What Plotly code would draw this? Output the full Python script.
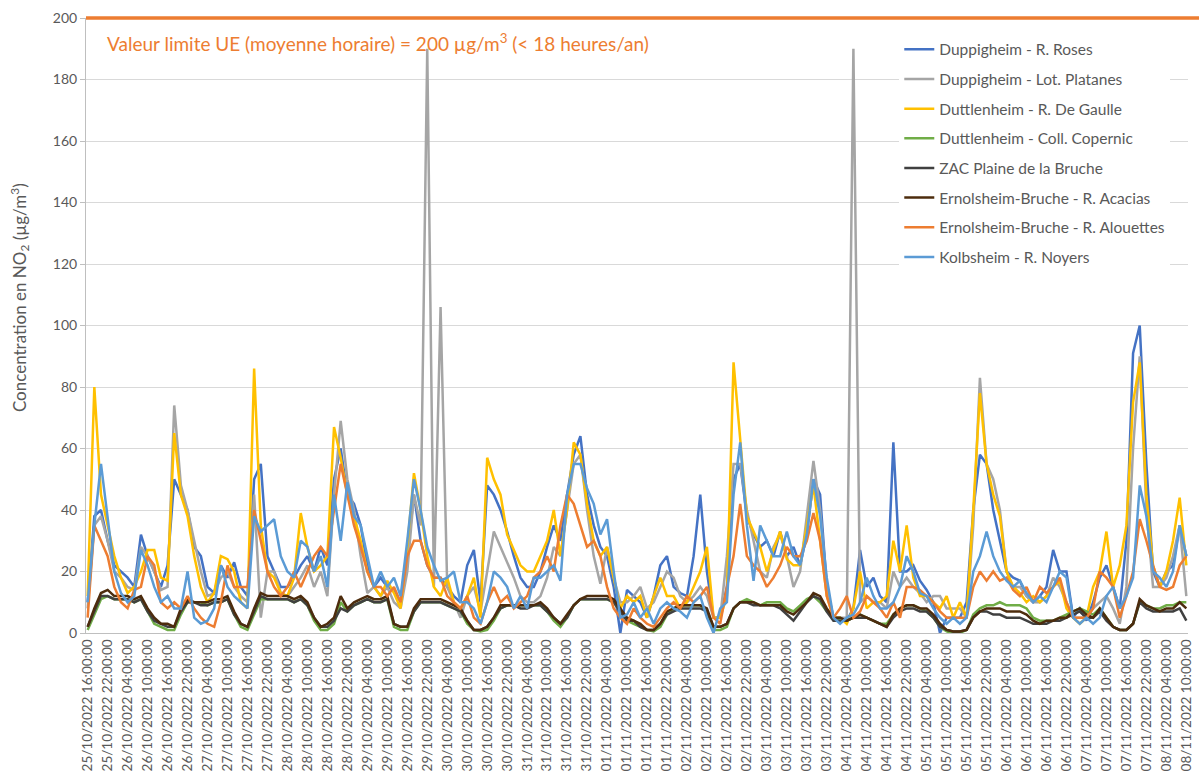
import pandas as pd
import plotly.graph_objects as go

# Hourly NO2 readings, sampled every 2 hours from 25/10/2022 16:00
START = "2022-10-25 16:00"
STEP = "2h"
LIMIT = 200  # EU hourly limit value

roses = [
    10, 38, 40, 30, 22, 20, 18, 15, 32, 25, 20, 15, 22, 50, 45, 40, 28, 25, 15, 13, 22, 18, 23, 15, 12,
    50, 55, 25, 20, 15, 15, 18, 22, 25, 20, 28, 22, 50, 60, 45, 42, 35, 22, 15, 18, 15, 14, 10, 25, 45, 30, 22, 18,
    18, 15, 12, 10, 22, 27, 10, 48, 45, 40, 33, 25, 18, 15, 15, 20, 28, 35, 30, 45, 58, 64, 45, 35, 28, 25, 15, 0, 14,
    12, 10, 5, 12, 22, 25, 15, 13, 12, 25, 45, 20, 5, 5, 15, 50, 55, 38, 32, 28, 30, 25, 33, 25, 28, 22, 32, 50,
    45, 15, 5, 5, 4, 8, 27, 15, 18, 12, 10, 62, 20, 20, 22, 17, 14, 10, 0, 5, 5, 5, 10, 40, 58, 55, 40, 30, 20,
    18, 17, 12, 10, 12, 15, 27, 20, 20, 5, 8, 4, 10, 18, 22, 15, 8, 30, 91, 100, 55, 20, 15, 20, 22, 35, 25,
]
platanes = [
    8, 35, 38, 30, 20, 18, 15, 14, 28, 25, 20, 14, 15, 74, 48, 40, 30, 20, 12, 13, 18, 20, 15, 12, 10,
    45, 5, 20, 20, 13, 12, 15, 18, 22, 15, 20, 12, 45, 69, 50, 40, 25, 13, 15, 12, 15, 10, 8, 20, 45, 35, 190, 15,
    106, 15, 10, 5, 12, 15, 7, 20, 33, 28, 23, 18, 12, 10, 10, 12, 18, 28, 25, 40, 55, 58, 40, 25, 16, 28, 18, 10, 10,
    12, 15, 8, 10, 15, 20, 18, 12, 10, 12, 15, 12, 5, 5, 25, 55, 55, 40, 30, 20, 18, 28, 32, 25, 15, 20, 38, 56,
    40, 15, 5, 5, 5, 190, 10, 12, 10, 10, 8, 20, 15, 18, 15, 13, 10, 12, 12, 8, 8, 8, 5, 35, 83, 55, 50, 40, 20,
    15, 15, 12, 10, 10, 12, 18, 15, 10, 5, 5, 5, 8, 10, 12, 8, 3, 15, 60, 90, 40, 15, 15, 18, 25, 35, 12,
]
de_gaulle = [
    12, 80, 45, 35, 25, 18, 13, 15, 20, 27, 27, 18, 17, 65, 45, 38, 25, 15, 10, 13, 25, 24, 20, 10, 8,
    86, 35, 20, 18, 13, 12, 18, 39, 28, 20, 22, 25, 67, 57, 45, 38, 30, 20, 15, 12, 17, 13, 8, 28, 52, 40, 25, 15,
    12, 18, 10, 8, 12, 18, 5, 57, 50, 45, 32, 27, 22, 20, 20, 25, 30, 40, 25, 40, 62, 58, 42, 30, 25, 28, 18, 8, 12,
    10, 12, 5, 12, 18, 12, 12, 8, 10, 15, 20, 28, 5, 5, 12, 88, 62, 38, 33, 28, 20, 27, 33, 24, 22, 22, 35, 48,
    30, 12, 5, 5, 3, 8, 20, 8, 10, 10, 12, 30, 20, 35, 18, 12, 12, 10, 8, 12, 5, 10, 5, 40, 78, 55, 45, 38, 20,
    15, 13, 10, 12, 10, 12, 15, 17, 8, 5, 3, 5, 15, 20, 33, 15, 22, 35, 75, 88, 45, 22, 15, 20, 30, 44, 22,
]
copernic = [
    1, 6, 11, 12, 11, 11, 11, 10, 11, 7, 3, 2, 1, 1, 6, 10, 10, 10, 9, 10, 10, 11, 6, 2, 1,
    6, 11, 11, 11, 11, 11, 10, 11, 9, 4, 1, 1, 3, 10, 7, 9, 10, 11, 10, 10, 11, 2, 1, 1, 7, 10, 10, 10,
    10, 9, 8, 7, 3, 1, 0.5, 1, 4, 8, 9, 9, 9, 9, 9, 9, 7, 4, 2, 5, 9, 11, 11, 11, 11, 11, 10, 7, 4,
    3, 2, 1, 0.5, 2, 6, 8, 9, 9, 9, 9, 7, 1, 1, 2, 8, 10, 11, 10, 9, 10, 10, 10, 8, 7, 9, 11, 12,
    10, 7, 5, 4, 4, 5, 6, 5, 4, 3, 3, 6, 8, 9, 9, 8, 7, 5, 2, 0.5, 0, 0, 1, 6, 8, 9, 9, 10, 9,
    9, 9, 8, 5, 4, 4, 4, 5, 6, 7, 8, 7, 6, 8, 5, 2, 1, 1, 3, 10, 9, 8, 8, 9, 9, 10, 10,
]
zac = [
    2, 7, 12, 12, 11, 11, 11, 10, 11, 7, 4, 3, 2, 2, 7, 10, 10, 9, 9, 10, 10, 11, 6, 3, 2,
    7, 12, 11, 11, 11, 11, 10, 11, 9, 5, 2, 2, 4, 8, 7, 9, 10, 11, 10, 10, 11, 3, 2, 2, 7, 10, 10, 10,
    10, 9, 8, 7, 4, 1, 1, 2, 5, 8, 9, 9, 8, 8, 9, 9, 7, 5, 3, 5, 9, 11, 11, 11, 11, 11, 10, 7, 4,
    4, 2, 1, 1, 3, 6, 7, 8, 8, 8, 8, 7, 2, 2, 3, 8, 10, 10, 9, 9, 9, 9, 8, 6, 4, 7, 10, 12,
    11, 7, 4, 4, 4, 5, 5, 5, 4, 3, 2, 5, 7, 8, 8, 7, 7, 5, 2, 1, 0.5, 0.5, 1, 5, 7, 7, 6, 6, 5,
    5, 5, 4, 3, 3, 3, 4, 4, 5, 6, 7, 5, 5, 7, 4, 2, 1, 1, 3, 10, 8, 7, 7, 7, 7, 8, 4,
]
acacias = [
    2, 8, 13, 14, 12, 12, 12, 11, 12, 8, 5, 3, 3, 2, 8, 11, 10, 10, 10, 11, 11, 12, 7, 3, 2,
    8, 13, 12, 12, 12, 12, 11, 12, 10, 5, 2, 3, 5, 12, 8, 10, 11, 12, 11, 11, 12, 3, 2, 2, 8, 11, 11, 11,
    11, 10, 9, 8, 4, 1, 1, 2, 5, 9, 9, 9, 9, 9, 9, 10, 8, 5, 3, 6, 9, 11, 12, 12, 12, 12, 11, 8, 5,
    4, 3, 1, 1, 3, 7, 8, 9, 9, 9, 9, 8, 2, 2, 3, 8, 10, 10, 10, 9, 9, 9, 9, 7, 6, 8, 10, 13,
    12, 8, 5, 5, 4, 5, 6, 5, 4, 3, 2, 6, 8, 9, 9, 8, 8, 6, 3, 1, 0.5, 0.5, 1, 5, 7, 8, 8, 8, 7,
    7, 7, 6, 4, 3, 4, 4, 5, 5, 7, 8, 6, 5, 8, 5, 2, 1, 1, 3, 11, 9, 8, 7, 8, 8, 10, 8,
]
alouettes = [
    5, 35, 30, 25, 15, 10, 8, 14, 15, 25, 22, 10, 8, 10, 8, 12, 8, 5, 3, 2, 10, 22, 15, 15, 15,
    40, 30, 20, 15, 12, 15, 20, 15, 20, 25, 28, 25, 40, 55, 45, 35, 28, 20, 15, 15, 12, 15, 10, 25, 30, 30, 22, 18,
    18, 12, 10, 8, 12, 5, 3, 10, 15, 10, 12, 8, 10, 12, 18, 20, 25, 20, 35, 45, 42, 35, 28, 30, 25, 15, 8, 5, 3,
    8, 5, 3, 2, 5, 8, 10, 8, 12, 10, 12, 15, 5, 3, 15, 25, 42, 25, 22, 20, 15, 18, 22, 28, 25, 25, 30, 39,
    30, 12, 5, 8, 12, 5, 7, 12, 10, 8, 5, 10, 5, 15, 15, 14, 12, 10, 7, 5, 5, 5, 5, 15, 20, 17, 20, 17, 18,
    14, 12, 15, 10, 15, 13, 15, 18, 10, 5, 5, 5, 8, 20, 18, 15, 5, 12, 20, 37, 30, 22, 15, 14, 15, 22, 25,
]
noyers = [
    10, 35, 55, 38, 20, 13, 10, 12, 27, 22, 15, 10, 12, 8, 8, 20, 5, 3, 4, 8, 22, 15, 12, 10, 8,
    38, 33, 35, 37, 25, 20, 18, 30, 28, 20, 25, 15, 45, 30, 49, 38, 35, 25, 15, 20, 15, 18, 12, 30, 50, 40, 28, 22,
    17, 18, 20, 10, 10, 8, 3, 10, 20, 18, 15, 8, 12, 8, 18, 18, 20, 22, 17, 45, 55, 55, 47, 42, 32, 37, 20, 5, 6,
    10, 5, 8, 3, 8, 10, 8, 7, 5, 10, 12, 5, 0, 8, 10, 45, 62, 35, 17, 35, 30, 25, 25, 33, 25, 22, 32, 50,
    38, 18, 5, 3, 5, 6, 10, 18, 12, 8, 8, 10, 15, 25, 20, 13, 12, 8, 5, 3, 5, 3, 5, 20, 25, 33, 25, 20, 17,
    15, 17, 13, 10, 12, 10, 15, 20, 18, 5, 3, 5, 3, 5, 12, 15, 8, 12, 18, 48, 38, 20, 18, 15, 20, 35, 25,
]

names = [
    "Duppigheim - R. Roses",
    "Duppigheim - Lot. Platanes",
    "Duttlenheim - R. De Gaulle",
    "Duttlenheim - Coll. Copernic",
    "ZAC Plaine de la Bruche",
    "Ernolsheim-Bruche - R. Acacias",
    "Ernolsheim-Bruche - R. Alouettes",
    "Kolbsheim - R. Noyers",
]
values = [roses, platanes, de_gaulle, copernic, zac, acacias, alouettes, noyers]
colors = ["#4472C4", "#A5A5A5", "#FFC000", "#70AD47", "#404040", "#4D2C0D", "#ED7D31", "#5B9BD5"]

times = pd.date_range(START, periods=len(roses), freq=STEP)
for v in values:
    assert len(v) == len(times)

FONT = "Lato, 'Open Sans', sans-serif"
TEXT_GREY = "#595959"
ORANGE = "#ED7D31"

fig = go.Figure()
for i, (name, vals, color) in enumerate(zip(names, values, colors)):
    fig.add_trace(
        go.Scatter(
            x=times,
            y=vals,
            name=name,
            mode="lines",
            legendgroup=str(i),
            line={"color": color, "width": 2.5},
        )
    )

# limit line sits on the top of the value axis (range tops out at LIMIT),
# drawn in paper coords so its full width is not clipped
fig.add_shape(
    type="line", xref="paper", yref="paper", x0=0, x1=1.01, y0=1, y1=1,
    line={"color": ORANGE, "width": 3.5},
)
fig.add_annotation(
    xref="paper",
    yref="y",
    x=0.017,
    y=192,
    xanchor="left",
    yanchor="middle",
    showarrow=False,
    text="Valeur limite UE (moyenne horaire) = 200 µg/m<sup>3</sup> (&lt; 18 heures/an)",
    font={"family": FONT, "size": 19, "color": ORANGE},
)
# value-axis title, placed like the original (a bit above the centre)
fig.add_annotation(
    xref="paper",
    yref="paper",
    x=-0.06,
    y=0.546,
    xanchor="center",
    yanchor="middle",
    textangle=-90,
    showarrow=False,
    text="Concentration en NO<sub>2</sub> (µg/m<sup>3</sup>)",
    font={"family": FONT, "size": 17, "color": TEXT_GREY},
)

x0 = pd.Timestamp(START) - pd.Timedelta(minutes=30)
x1 = times[-1] + pd.Timedelta(minutes=30)

fig.update_layout(
    width=1200,
    height=778,
    margin={"l": 86, "r": 6, "t": 18, "b": 145},
    paper_bgcolor="white",
    plot_bgcolor="white",
    font={"family": FONT, "color": TEXT_GREY, "size": 13},
    xaxis={
        "type": "date",
        "range": [x0, x1],
        "tick0": START,
        "dtick": 6 * 3600 * 1000,
        "tickformat": "%d/%m/%Y %H:%M:%S",
        "tickangle": -90,
        "tickfont": {"size": 13.5, "color": TEXT_GREY},
        "showgrid": False,
        "showline": True,
        "linecolor": "#BFBFBF",
        "linewidth": 1,
        "ticks": "",
    },
    yaxis={
        "range": [0, LIMIT],
        "dtick": 20,
        "gridcolor": "#D9D9D9",
        "gridwidth": 1,
        "zeroline": False,
        "showline": True,
        "linecolor": "#BFBFBF",
        "ticks": "outside",
        "ticklen": 5,
        "tickcolor": "#BFBFBF",
        "tickfont": {"size": 14, "color": TEXT_GREY},
    },
    legend={
        "x": 0.738,
        "y": 0.976,
        "xanchor": "left",
        "yanchor": "top",
        "bgcolor": "white",
        "font": {"size": 15.5, "color": TEXT_GREY},
        "itemwidth": 30,
        "tracegroupgap": 6.5,
    },
)

fig.write_html(
    "out.html",
    config={"displayModeBar": False},
    post_script="document.body.style.margin='0';",
)
